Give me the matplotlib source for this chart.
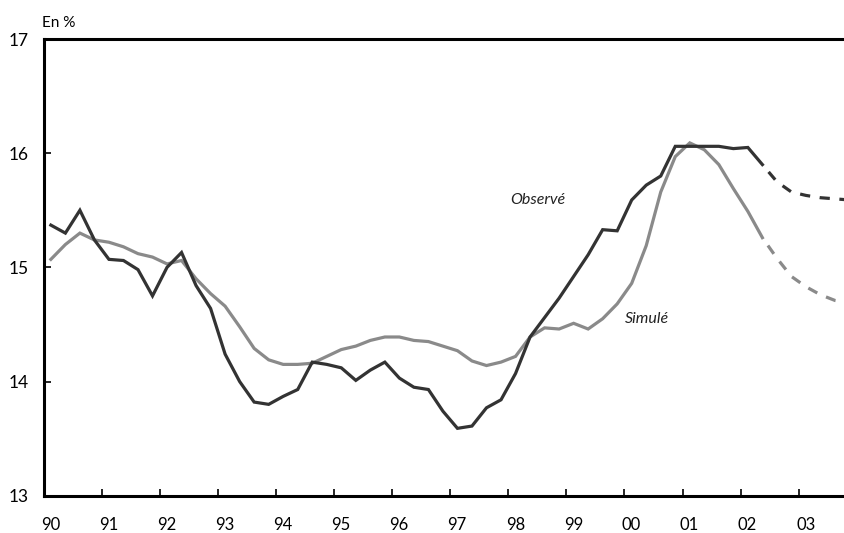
import numpy as np
import matplotlib.pyplot as plt
from matplotlib.transforms import ScaledTranslation

plt.rcParams['font.family'] = ['Lato', 'DejaVu Sans']

# Quarterly data, 1990Q1 - 2003Q4 (en %)
observe = [15.37, 15.30, 15.50, 15.24,
           15.07, 15.06, 14.98, 14.75,
           15.00, 15.13, 14.84, 14.64,
           14.24, 14.00, 13.82, 13.80,
           13.87, 13.93, 14.17, 14.15,
           14.12, 14.01, 14.10, 14.17,
           14.03, 13.95, 13.93, 13.74,
           13.59, 13.61, 13.77, 13.84,
           14.07, 14.39, 14.56, 14.73,
           14.92, 15.11, 15.33, 15.32,
           15.59, 15.72, 15.80, 16.06,
           16.06, 16.06, 16.06, 16.04,
           16.05, 15.90, 15.75, 15.66,
           15.63, 15.61, 15.60, 15.59]

simule = [15.07, 15.20, 15.30, 15.24,
          15.22, 15.18, 15.12, 15.09,
          15.03, 15.06, 14.90, 14.77,
          14.66, 14.48, 14.29, 14.19,
          14.15, 14.15, 14.16, 14.22,
          14.28, 14.31, 14.36, 14.39,
          14.39, 14.36, 14.35, 14.31,
          14.27, 14.18, 14.14, 14.17,
          14.22, 14.39, 14.47, 14.46,
          14.51, 14.46, 14.55, 14.68,
          14.86, 15.19, 15.66, 15.97,
          16.09, 16.03, 15.90, 15.69,
          15.49, 15.26, 15.08, 14.92,
          14.83, 14.76, 14.71, 14.69]

n_obs = 50  # last observed quarter: 2002Q2, projection after
years = list(range(1990, 2004))
year_labels = ['90', '91', '92', '93', '94', '95', '96', '97', '98', '99',
               '00', '01', '02', '03']

x = 1990 + (np.arange(len(observe)) + 0.5) / 4
observe = np.array(observe)
simule = np.array(simule)

fig = plt.figure(figsize=(8.44, 5.33), dpi=100)
ax = fig.add_axes([43.6 / 844, 1 - 495.7 / 533, 1 - 43.6 / 844, (495.7 - 39) / 533])

dark = '#333333'
grey = '#8a8a8a'
lw = 2.3
dash = (3.2, (3.2, 3.0))

ax.plot(x[:n_obs], simule[:n_obs], color=grey, lw=lw, solid_joinstyle='miter')
ax.plot(x[n_obs - 1:], simule[n_obs - 1:], color=grey, lw=lw, linestyle=dash)
ax.plot(x[:n_obs], observe[:n_obs], color=dark, lw=lw, solid_joinstyle='miter')
ax.plot(x[n_obs - 1:], observe[n_obs - 1:], color=dark, lw=lw, linestyle=dash)

ax.set_xlim(1990, 2003.78)
ax.set_ylim(13, 17)

ax.set_xticks(years)
ax.set_xticklabels(year_labels)
ax.set_yticks([13, 14, 15, 16, 17])

ax.tick_params(axis='x', direction='in', length=5, width=1.2, pad=15, labelsize=12)
ax.tick_params(axis='y', direction='in', length=5, width=1.2, pad=11, labelsize=12.5)
for lab in ax.get_xticklabels():
    lab.set_transform(lab.get_transform() + ScaledTranslation(7 / 100, 0, fig.dpi_scale_trans))

for side in ['left', 'bottom', 'top']:
    ax.spines[side].set_linewidth(2.2)
    ax.spines[side].set_color('black')
ax.spines['right'].set_visible(False)

fig.text(538 / 844, 1 - 200 / 533, 'Observé', fontsize=11.5, style='italic',
         ha='center', va='center', color='#222222')
fig.text(646.5 / 844, 1 - 319 / 533, 'Simulé', fontsize=11.5, style='italic',
         ha='center', va='center', color='#222222')
fig.text(41.7 / 844, 1 - 23 / 533, 'En %', fontsize=11, ha='left', va='center')

fig.savefig('out.png', dpi=100)
